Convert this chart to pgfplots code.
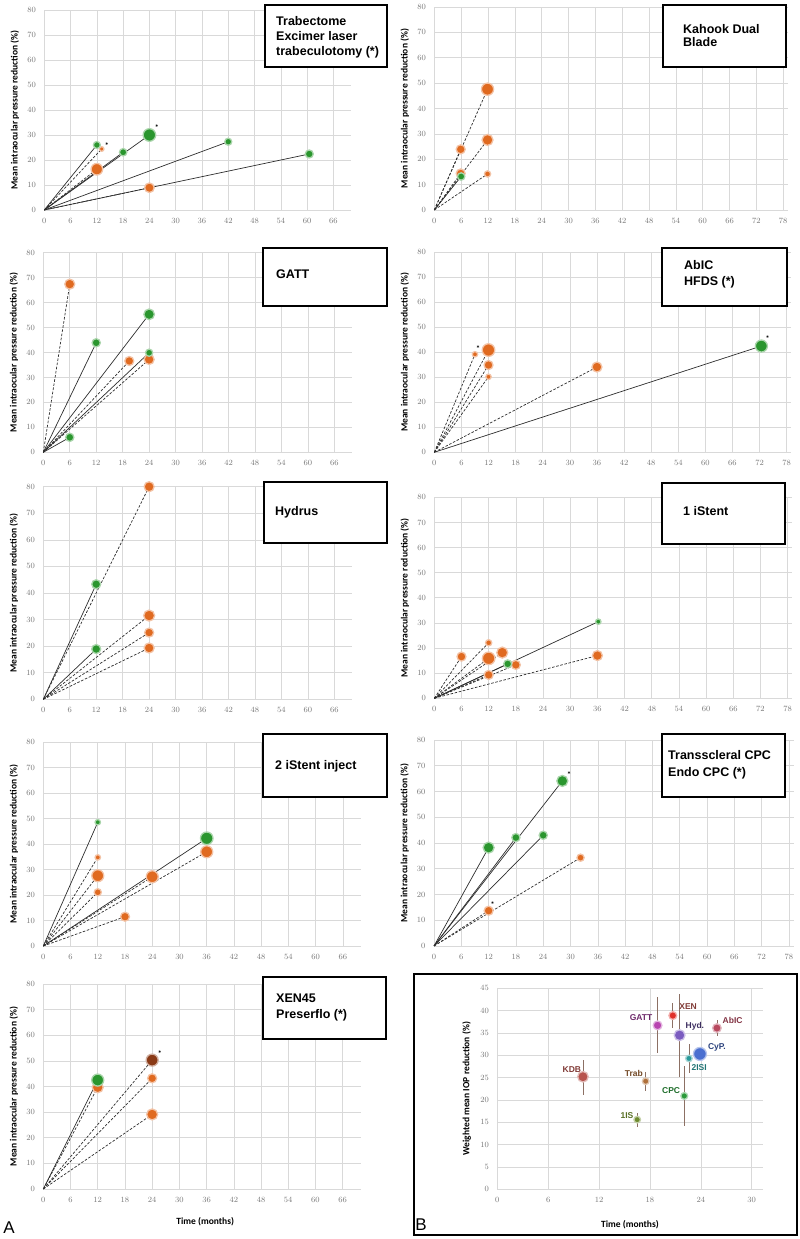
\documentclass[border=0pt]{standalone}
\usepackage{fontspec}
\setmainfont{Carlito}
\newfontfamily\arial{Liberation Sans}
\usepackage{pgfplots}
\usepackage{pgfplotstable}
\pgfplotsset{compat=1.18}

\definecolor{gridc}{RGB}{217,217,217}
\definecolor{tickc}{RGB}{118,118,118}
\definecolor{linec}{RGB}{45,45,45}
\definecolor{gmark}{RGB}{42,150,46}
\definecolor{omark}{RGB}{224,106,32}
\definecolor{bmark}{RGB}{138,58,22}
\definecolor{errc}{RGB}{140,112,100}
\definecolor{kdbc}{RGB}{184,84,78}
\definecolor{trabc}{RGB}{176,112,58}
\definecolor{oneisc}{RGB}{110,139,46}
\definecolor{gattc}{RGB}{184,68,176}
\definecolor{xenc}{RGB}{224,48,42}
\definecolor{hydc}{RGB}{123,92,192}
\definecolor{abicc}{RGB}{184,72,94}
\definecolor{cypc}{RGB}{74,111,208}
\definecolor{twoisc}{RGB}{42,154,154}
\definecolor{cpcc}{RGB}{42,154,58}

\newcommand\ttl{\arial\bfseries\fontsize{12.5}{15}\selectfont}
\newcommand\lab{\arial\bfseries\fontsize{8.5}{9}\selectfont}
\newcommand\astf{\bfseries\fontsize{8}{8}\selectfont}

% x y r  (r = marker radius)
\pgfplotstableread{
x y r
12 26 3
18 23.1 3.2
24 30 5.8
42 27.3 3
60.5 22.4 3.5
}\trabG
\pgfplotstableread{
x y r
13.1 24.4 1.8
12 16.3 5.3
24 8.9 4.3
}\trabO
\pgfplotstableread{
x y r
6 13.2 3.2
}\kdbG
\pgfplotstableread{
x y r
11.9 47.6 5.6
11.9 27.6 5
5.9 23.9 4
5.9 14.4 4
11.9 14.2 2.6
}\kdbO
\pgfplotstableread{
x y r
12 43.9 3.6
24 55.3 4.8
24 39.9 3.1
6 6.0 3.6
}\gattG
\pgfplotstableread{
x y r
6 67.4 4.5
19.5 36.6 4
24 37.2 4.5
}\gattO
\pgfplotstableread{
x y r
72.4 42.5 5.5
}\abicG
\pgfplotstableread{
x y r
9 39.2 2.2
12 40.9 5.8
12 34.9 4
12 30.2 2.2
36 34.1 4.5
}\abicO
\pgfplotstableread{
x y r
12 43.3 4
12 18.9 4
}\hydG
\pgfplotstableread{
x y r
24 80 4.5
24 31.5 5
24 25.1 4
24 19.3 4.5
}\hydO
\pgfplotstableread{
x y r
16.2 13.7 3.5
36.2 30.5 2.2
}\oneG
\pgfplotstableread{
x y r
6 16.6 4
12 22.1 2.6
12 15.9 5.8
12 9.3 4
15 18.2 5
18 13.3 4
36 17 4.5
}\oneO
\pgfplotstableread{
x y r
12 48.6 2.2
36 42.3 5.8
}\twoG
\pgfplotstableread{
x y r
12 34.8 2.2
12 27.6 5.5
12 21.1 3.1
18 11.5 4
24 27.2 5.5
36 37 5.5
}\twoO
\pgfplotstableread{
x y r
28.2 64.1 5
18 42.1 3.6
12 38.2 5
24 43 3.6
}\cpcG
\pgfplotstableread{
x y r
32.2 34.3 3.1
12 13.7 4
}\cpcO
\pgfplotstableread{
x y r
12 42.5 5.5
}\xenG
\pgfplotstableread{
x y r
12 39.7 5
24 43.2 4
24 29.1 5
}\xenO
\pgfplotstableread{
x y r
24 50.3 5.5
}\xenB

\pgfplotsset{
  excel/.style={scale only axis, anchor=south west, clip=false,
    grid=major, major grid style={line width=0.6pt, gridc},
    axis line style={draw=none}, major tick length=0pt,
    tick label style={font=\fontsize{8.5}{9}\selectfont, text=tickc},
    xticklabel shift=5pt, yticklabel shift=5pt},
  panel/.style={excel, xmin=0, ymin=0, ymax=80, ytick={0,10,...,80},
    ylabel={Mean intraocular pressure reduction (\%)},
    ylabel style={font=\bfseries\fontsize{9.5}{9.5}\selectfont,
      at={([xshift=-29.5pt]axis description cs:0,0.5)}, anchor=center}},
  lpanel/.style={panel, xmax=70, xtick={0,6,...,66}},
  rpanel/.style={panel, xmax=79, xtick={0,6,...,78}},
  conn/.style={quiver={u=\thisrow{x}, v=\thisrow{y}}, draw=linec,
    line width=0.7pt, no markers},
  dconn/.style={conn, dash pattern=on 2.6pt off 1.6pt},
  bub/.style={only marks, mark=*, scatter,
    scatter/use mapped color={draw=#1!40!white, fill=#1},
    visualization depends on={\thisrow{r}+0.5\as\mrad},
    scatter/@pre marker code/.append style={/tikz/mark size=\mrad},
    mark options={line width=1.3pt}},
  bpt/.style n args={2}{only marks, mark=*, mark size=#2,
    mark options={fill=#1, draw=#1!40!white, line width=1.3pt}},
}

\begin{document}
\begin{tikzpicture}
\useasboundingbox (0,0) rectangle (800pt,1239pt);

% Trabectome
\begin{axis}[lpanel, at={(44.3pt,1029pt)}, width=306.6pt, height=200pt]
\addplot[bub=omark] table{\trabO};
\addplot[bub=gmark] table{\trabG};
\addplot[dconn] table[x expr=0, y expr=0]{\trabO};
\addplot[conn] table[x expr=0, y expr=0]{\trabG};
\node[font=\astf] at (axis cs:14.3,25.6) {*};
\node[font=\astf] at (axis cs:25.7,32.8) {*};
\end{axis}

% Kahook Dual Blade
\begin{axis}[rpanel, at={(434.3pt,1029pt)}, width=353.4pt, height=203pt]
\addplot[bub=omark] table{\kdbO};
\addplot[bub=gmark] table{\kdbG};
\addplot[dconn] table[x expr=0, y expr=0]{\kdbO};
\addplot[conn] table[x expr=0, y expr=0]{\kdbG};
\end{axis}

% GATT
\begin{axis}[lpanel, at={(43.3pt,786.7pt)}, width=308.7pt, height=199.6pt]
\addplot[bub=omark] table{\gattO};
\addplot[bub=gmark] table{\gattG};
\addplot[dconn] table[x expr=0, y expr=0]{\gattO};
\addplot[conn] table[x expr=0, y expr=0]{\gattG};
\end{axis}

% AbIC / HFDS
\begin{axis}[rpanel, at={(434.3pt,786.7pt)}, width=356.9pt, height=200pt]
\addplot[bub=omark] table{\abicO};
\addplot[bub=gmark] table{\abicG};
\addplot[dconn] table[x expr=0, y expr=0]{\abicO};
\addplot[conn] table[x expr=0, y expr=0]{\abicG};
\node[font=\astf] at (axis cs:9.7,41.3) {*};
\node[font=\astf] at (axis cs:73.8,45.6) {*};
\end{axis}

% Hydrus
\begin{axis}[lpanel, at={(43.3pt,539.7pt)}, width=308.7pt, height=212.6pt]
\addplot[bub=omark] table{\hydO};
\addplot[bub=gmark] table{\hydG};
\addplot[dconn] table[x expr=0, y expr=0]{\hydO};
\addplot[conn] table[x expr=0, y expr=0]{\hydG};
\end{axis}

% 1 iStent
\begin{axis}[rpanel, at={(434.3pt,540.7pt)}, width=357.9pt, height=201pt]
\addplot[bub=omark] table{\oneO};
\addplot[bub=gmark] table{\oneG};
\addplot[dconn] table[x expr=0, y expr=0]{\oneO};
\addplot[conn] table[x expr=0, y expr=0]{\oneG};
\end{axis}

% 2 iStent inject
\begin{axis}[lpanel, at={(43.3pt,293pt)}, width=317.8pt, height=203.7pt]
\addplot[bub=omark] table{\twoO};
\addplot[bub=gmark] table{\twoG};
\addplot[dconn] table[x expr=0, y expr=0]{\twoO};
\addplot[conn] table[x expr=0, y expr=0]{\twoG};
\end{axis}

% CPC
\begin{axis}[rpanel, at={(434pt,293pt)}, width=359.5pt, height=206pt]
\addplot[bub=omark] table{\cpcO};
\addplot[bub=gmark] table{\cpcG};
\addplot[dconn] table[x expr=0, y expr=0]{\cpcO};
\addplot[conn] table[x expr=0, y expr=0]{\cpcG};
\node[font=\astf] at (axis cs:29.7,66.6) {*};
\node[font=\astf] at (axis cs:12.9,15.9) {*};
\end{axis}

% XEN45 / Preserflo
\begin{axis}[lpanel, at={(43.3pt,50pt)}, width=317.5pt, height=205pt,
  xlabel={Time (months)},
  xlabel style={font=\bfseries\fontsize{9.5}{9.5}\selectfont,
    at={([yshift=-33pt]axis description cs:0.51,0)}, anchor=center}]
\addplot[bub=omark] table{\xenO};
\addplot[bub=gmark] table{\xenG};
\addplot[bub=bmark] table{\xenB};
\addplot[dconn] table[x expr=0, y expr=0]{\xenO};
\addplot[dconn] table[x expr=0, y expr=0]{\xenB};
\addplot[conn] table[x expr=0, y expr=0]{\xenG};
\node[font=\astf] at (axis cs:25.7,53) {*};
\end{axis}

% Panel B
\begin{axis}[excel, at={(497.3pt,49.7pt)}, width=265.4pt, height=201pt,
  xmin=0, xmax=31.3, ymin=0, ymax=45, xtick={0,6,...,30}, ytick={0,5,...,45},
  ylabel={Weighted mean IOP reduction (\%)},
  ylabel style={font=\bfseries\fontsize{9.5}{9.5}\selectfont,
    at={([xshift=-30.6pt]axis description cs:0,0.5)}, anchor=center},
  xlabel={Time (months)},
  xlabel style={font=\bfseries\fontsize{9.5}{9.5}\selectfont,
    at={([yshift=-35pt]axis description cs:0.5,0)}, anchor=center},
  error bars/y dir=both, error bars/y explicit, error bars/error mark=none,
  error bars/error bar style={errc, line width=0.8pt}]
\addplot[bpt={kdbc}{5.3}] coordinates {(10.1,25.2) += (0,3.7) -= (0,4.1)};
\addplot[bpt={trabc}{3.3}] coordinates {(17.5,24.2) += (0,2.1) -= (0,2.2)};
\addplot[bpt={oneisc}{3.3}] coordinates {(16.5,15.6) += (0,1.4) -= (0,1.7)};
\addplot[bpt={gattc}{4.4}] coordinates {(18.9,36.7) += (0,6.3) -= (0,6.1)};
\addplot[bpt={xenc}{3.9}] coordinates {(20.7,38.9) += (0,2.9) -= (0,2.8)};
\addplot[bpt={hydc}{5.4}] coordinates {(21.5,34.5) += (0,9.3) -= (0,9.4)};
\addplot[bpt={abicc}{4.3}] coordinates {(25.9,36.1) += (0,1.7) -= (0,1.8)};
\addplot[bpt={cypc}{6.5}] coordinates {(23.9,30.3)};
\addplot[bpt={twoisc}{3.3}] coordinates {(22.6,29.3) += (0,3.3) -= (0,3.2)};
\addplot[bpt={cpcc}{3.4}] coordinates {(22.05,20.9) += (0,6.7) -= (0,6.8)};
\node[font=\lab, text=kdbc!70!black] at (axis cs:8.8,26.9) {KDB};
\node[font=\lab, text=trabc!65!black] at (axis cs:16.1,26.0) {Trab};
\node[font=\lab, text=oneisc!80!black] at (axis cs:15.3,16.6) {1IS};
\node[font=\lab, text=gattc!60!black] at (axis cs:16.95,38.5) {GATT};
\node[font=\lab, text=kdbc!70!black] at (axis cs:22.5,40.9) {XEN};
\node[font=\lab, text=hydc!50!black] at (axis cs:23.3,36.4) {Hyd.};
\node[font=\lab, text=abicc!70!black] at (axis cs:27.75,37.7) {AbIC};
\node[font=\lab, text=cypc!60!black] at (axis cs:25.9,31.8) {CyP.};
\node[font=\lab, text=twoisc!75!black] at (axis cs:23.8,27.2) {2ISI};
\node[font=\lab, text=cpcc!70!black] at (axis cs:20.5,22.2) {CPC};
\end{axis}

\begin{scope}[x=1pt, y=1pt]
\draw[line width=1.5pt, fill=white] (265,1172) rectangle (387,1234);
\node[anchor=mid west, font=\ttl, inner sep=0pt] at (276,1216) {Trabectome};
\node[anchor=mid west, font=\ttl, inner sep=0pt] at (276,1201) {Excimer laser};
\node[anchor=mid west, font=\ttl, inner sep=0pt] at (276,1186) {trabeculotomy (*)};

\draw[line width=1.5pt, fill=white] (663,1172) rectangle (786,1234);
\node[anchor=mid west, font=\ttl, inner sep=0pt] at (683,1208) {Kahook Dual};
\node[anchor=mid west, font=\ttl, inner sep=0pt] at (683,1195) {Blade};

\draw[line width=1.5pt, fill=white] (263,933) rectangle (387,991);
\node[anchor=mid west, font=\ttl, inner sep=0pt] at (276,963) {GATT};

\draw[line width=1.5pt, fill=white] (662,933) rectangle (787,991);
\node[anchor=mid west, font=\ttl, inner sep=0pt] at (684,972) {AbIC};
\node[anchor=mid west, font=\ttl, inner sep=0pt] at (684,956) {HFDS (*)};

\draw[line width=1.5pt, fill=white] (264,696) rectangle (387,757);
\node[anchor=mid west, font=\ttl, inner sep=0pt] at (275,726) {Hydrus};

\draw[line width=1.5pt, fill=white] (662,695) rectangle (785,756);
\node[anchor=mid west, font=\ttl, inner sep=0pt] at (683,726) {1 iStent};

\draw[line width=1.5pt, fill=white] (263,442) rectangle (387,505);
\node[anchor=mid west, font=\ttl, inner sep=0pt] at (275,472) {2 iStent inject};

\draw[line width=1.5pt, fill=white] (662,442) rectangle (785,505);
\node[anchor=mid west, font=\ttl, inner sep=0pt] at (668,482) {Transscleral CPC};
\node[anchor=mid west, font=\ttl, inner sep=0pt] at (668,465) {Endo CPC (*)};

\draw[line width=1.5pt, fill=white] (263,200) rectangle (386,262);
\node[anchor=mid west, font=\ttl, inner sep=0pt] at (276,239) {XEN45};
\node[anchor=mid west, font=\ttl, inner sep=0pt] at (276,223) {Preserflo (*)};

\draw[line width=2pt] (414,4) rectangle (797,265);
\node[font=\arial\fontsize{17}{17}\selectfont] at (9,11) {A};
\node[font=\arial\fontsize{17}{17}\selectfont] at (421,14) {B};
\end{scope}
\end{tikzpicture}
\end{document}
